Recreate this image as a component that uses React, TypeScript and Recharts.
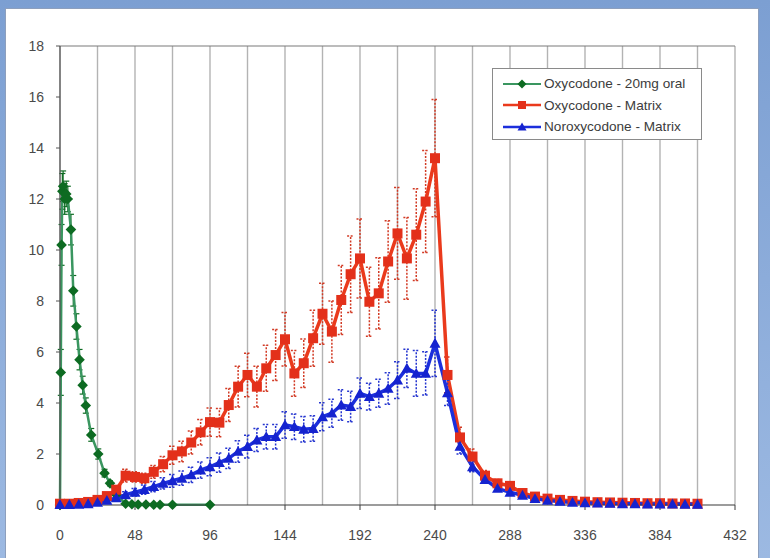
import React from "react";
import { LineChart, Line, XAxis, YAxis, CartesianGrid, ErrorBar, ReferenceLine } from "recharts";

// ---------- axes ----------
const xTicks = [0, 48, 96, 144, 192, 240, 288, 336, 384, 432];
const gridTicks = [0, 24, 48, 72, 96, 120, 144, 168, 192, 216, 240, 264, 288, 312, 336, 360, 384, 408, 432];
const yTicks = [0, 2, 4, 6, 8, 10, 12, 14, 16, 18];

// ---------- series names ----------
const seriesNames = ["Oxycodone - 20mg oral", "Oxycodone - Matrix", "Noroxycodone - Matrix"];

// ---------- Oxycodone - 20mg oral ----------
const oralTimes = [0, 0.5, 1, 1.5, 2, 3, 4, 5, 7, 8.5, 10.5, 12.5, 14.5, 16.5, 20, 24.5, 28.5, 32, 36, 42, 46, 50, 55, 60, 64, 72, 96];
const oralValues = [0, 5.2, 10.2, 12.3, 12.5, 12.0, 12.2, 12.0, 10.8, 8.4, 7.0, 5.7, 4.7, 3.9, 2.75, 2.0, 1.25, 0.85, 0.4, 0.05, 0.03, 0.02, 0.02, 0.01, 0.01, 0.01, 0.01];
const oralErrors = [0, 0.9, 0.8, 0.7, 0.6, 0.6, 0.5, 0.5, 0.6, 0.6, 0.5, 0.4, 0.35, 0.3, 0.25, 0.2, 0.15, 0.1, 0.08, 0.02, 0.02, 0.01, 0.01, 0.01, 0.01, 0.01, 0.01];

// ---------- Matrix sampling times ----------
const matrixTimes = [
  0, 6, 12, 18, 24, 30, 36, 42, 48, 54, 60, 66, 72, 78, 84, 90, 96, 102, 108, 114, 120,
  126, 132, 138, 144, 150, 156, 162, 168, 174, 180, 186, 192, 198, 204, 210, 216, 222, 228, 234, 240,
  248, 256, 264, 272, 280, 288, 296, 304, 312, 320, 328, 336, 344, 352, 360, 368, 376, 384, 392, 400, 408,
];

// ---------- Oxycodone - Matrix ----------
const oxyMatrixValues = [
  0.05, 0.05, 0.08, 0.12, 0.2, 0.35, 0.6, 1.15, 1.1, 1.05, 1.3, 1.6, 1.95, 2.1, 2.45, 2.85, 3.25, 3.23, 3.92, 4.64, 5.1,
  4.64, 5.36, 5.88, 6.5, 5.16, 5.56, 6.54, 7.5, 6.8, 8.04, 9.05, 9.67, 7.97, 8.3, 9.55, 10.65, 9.67, 10.6, 11.9, 13.6,
  5.1, 2.65, 1.9, 1.15, 0.85, 0.75, 0.47, 0.33, 0.25, 0.2, 0.16, 0.13, 0.11, 0.1, 0.09, 0.08, 0.07, 0.07, 0.06, 0.06, 0.05,
];
const oxyMatrixErrors = [
  0.03, 0.03, 0.04, 0.06, 0.08, 0.12, 0.15, 0.25, 0.2, 0.2, 0.25, 0.3, 0.35, 0.4, 0.45, 0.5, 0.55, 0.55, 0.65, 0.8, 0.85,
  0.8, 0.9, 1.0, 1.05, 0.9, 0.95, 1.1, 1.2, 1.2, 1.35, 1.5, 1.55, 1.35, 1.4, 1.6, 1.8, 1.6, 1.8, 2.0, 2.3,
  0.7, 0.4, 0.3, 0.2, 0.15, 0.12, 0.08, 0.06, 0.05, 0.04, 0.03, 0.03, 0.02, 0.02, 0.02, 0.02, 0.02, 0.02, 0.02, 0.02, 0.02,
];

// ---------- Noroxycodone - Matrix ----------
const noroxyValues = [
  0.02, 0.02, 0.03, 0.05, 0.1, 0.18, 0.28, 0.4, 0.5, 0.6, 0.72, 0.85, 0.95, 1.05, 1.18, 1.37, 1.5, 1.66, 1.83, 2.1, 2.29,
  2.55, 2.68, 2.68, 3.14, 3.07, 2.97, 3.0, 3.46, 3.6, 3.92, 3.86, 4.38, 4.25, 4.38, 4.57, 4.9, 5.36, 5.16, 5.16, 6.34,
  4.4, 2.3, 1.5, 1.0, 0.65, 0.5, 0.38, 0.25, 0.18, 0.14, 0.1, 0.08, 0.07, 0.06, 0.05, 0.05, 0.04, 0.04, 0.04, 0.03, 0.03,
];
const noroxyErrors = [
  0.01, 0.01, 0.02, 0.03, 0.05, 0.07, 0.1, 0.12, 0.15, 0.18, 0.2, 0.22, 0.25, 0.28, 0.3, 0.32, 0.35, 0.38, 0.4, 0.42, 0.45,
  0.45, 0.48, 0.48, 0.52, 0.5, 0.5, 0.5, 0.55, 0.55, 0.6, 0.6, 0.6, 0.52, 0.55, 0.62, 0.72, 0.75, 0.9, 0.85, 1.3,
  0.5, 0.3, 0.2, 0.15, 0.1, 0.08, 0.06, 0.05, 0.04, 0.03, 0.02, 0.02, 0.02, 0.02, 0.01, 0.01, 0.01, 0.01, 0.01, 0.01, 0.01,
];

const oralData = oralTimes.map((t, i) => ({ t, v: oralValues[i], e: oralErrors[i] }));
const oxyData = matrixTimes.map((t, i) => ({ t, v: oxyMatrixValues[i], e: oxyMatrixErrors[i] }));
const noroxyData = matrixTimes.map((t, i) => ({ t, v: noroxyValues[i], e: noroxyErrors[i] }));

const GREEN_LINE = "#3a9660";
const GREEN_DOT = "#0d6b22";
const RED = "#ea3a1c";
const RED_DOT = "#e3301a";
const BLUE = "#1c2fdc";
const BLUE_DOT = "#1523cf";

const font = "'Liberation Sans', Arial, sans-serif";

const diamondPath = (cx: number, cy: number, r: number) =>
  `M${cx},${cy - r}L${cx + r},${cy}L${cx},${cy + r}L${cx - r},${cy}Z`;
const trianglePath = (cx: number, cy: number, r: number) =>
  `M${cx},${cy - r}L${cx + r},${cy + r * 0.8}L${cx - r},${cy + r * 0.8}Z`;

const renderDiamond = (props: any) => {
  const { cx, cy, index } = props;
  if (cx == null || cy == null) return <g key={`d${index}`} />;
  return <path key={`d${index}`} d={diamondPath(cx, cy, 5.3)} fill={GREEN_DOT} />;
};
const renderSquare = (props: any) => {
  const { cx, cy, index } = props;
  if (cx == null || cy == null) return <g key={`s${index}`} />;
  return <rect key={`s${index}`} x={cx - 5} y={cy - 5} width={10} height={10} fill={RED_DOT} />;
};
const renderTriangle = (props: any) => {
  const { cx, cy, index } = props;
  if (cx == null || cy == null) return <g key={`t${index}`} />;
  return <path key={`t${index}`} d={trianglePath(cx, cy, 5.5)} fill={BLUE_DOT} />;
};

const LegendIcon = ({ kind }: { kind: number }) => {
  const color = kind === 0 ? GREEN_LINE : kind === 1 ? RED : BLUE;
  return (
    <svg width={40} height={12} style={{ display: "block" }}>
      <line x1={1} y1={6} x2={39} y2={6} stroke={color} strokeWidth={kind === 0 ? 2 : 2.5} />
      {kind === 0 && <path d={diamondPath(20, 6, 4.5)} fill={GREEN_DOT} />}
      {kind === 1 && <rect x={16} y={2} width={8} height={8} fill={RED_DOT} />}
      {kind === 2 && <path d={trianglePath(20, 6, 4.5)} fill={BLUE_DOT} />}
    </svg>
  );
};

export default function App() {
  return (
    <div
      style={{
        position: "absolute",
        left: 0,
        top: 0,
        width: 770,
        height: 558,
        background: "linear-gradient(180deg, #7c9fd2 0%, #9cb9e2 100%)",
        overflow: "hidden",
      }}
    >
      <div
        style={{
          position: "absolute",
          left: 5,
          top: 8,
          width: 752,
          height: 560,
          background: "#ffffff",
          borderTop: "1px solid #8d9fbd",
          borderLeft: "1px solid #8d9fbd",
          borderRight: "1px solid #8d9fbd",
        }}
      />
      <div style={{ position: "absolute", left: 0, top: 0 }}>
        <LineChart width={770} height={558} margin={{ top: 46, right: 35, left: 0, bottom: 23 }}>
          <CartesianGrid horizontal={false} verticalValues={gridTicks} stroke="#b3b3b3" strokeWidth={1.4} />
          <XAxis
            dataKey="t"
            type="number"
            domain={[0, 432]}
            ticks={xTicks}
            interval={0}
            height={30}
            tickSize={5}
            tickMargin={20}
            axisLine={{ stroke: "#3a3a3a", strokeWidth: 1.2 }}
            tickLine={{ stroke: "#3a3a3a" }}
            tick={{ fill: "#4a4a4a", fontSize: 14, fontFamily: font }}
            allowDuplicatedCategory={false}
          />
          <YAxis
            type="number"
            domain={[0, 18]}
            ticks={yTicks}
            interval={0}
            width={60}
            tickSize={4}
            tickMargin={12}
            axisLine={{ stroke: "#555555", strokeWidth: 1.2 }}
            tickLine={{ stroke: "#555555" }}
            tick={{ fill: "#4a4a4a", fontSize: 14, fontFamily: font }}
          />
          <ReferenceLine y={18} stroke="#7a7a7a" strokeWidth={1.2} />
          <Line
            data={oralData}
            dataKey="v"
            name={seriesNames[0]}
            type="linear"
            stroke={GREEN_LINE}
            strokeWidth={2.5}
            dot={renderDiamond}
            activeDot={false}
            isAnimationActive={false}
          >
            <ErrorBar dataKey="e" direction="y" width={3} stroke={GREEN_DOT} strokeWidth={1.2} />
          </Line>
          <Line
            data={oxyData}
            dataKey="v"
            name={seriesNames[1]}
            type="linear"
            stroke={RED}
            strokeWidth={3.5}
            dot={renderSquare}
            activeDot={false}
            isAnimationActive={false}
          >
            <ErrorBar dataKey="e" direction="y" width={3.5} stroke="#d23a24" strokeWidth={1.5} strokeDasharray="2 1.5" />
          </Line>
          <Line
            data={noroxyData}
            dataKey="v"
            name={seriesNames[2]}
            type="linear"
            stroke={BLUE}
            strokeWidth={3.5}
            dot={renderTriangle}
            activeDot={false}
            isAnimationActive={false}
          >
            <ErrorBar dataKey="e" direction="y" width={3.5} stroke="#2535d0" strokeWidth={1.5} strokeDasharray="2 1.5" />
          </Line>
        </LineChart>
      </div>
      <div
        style={{
          position: "absolute",
          left: 492,
          top: 68,
          width: 210,
          height: 72,
          background: "#ffffff",
          border: "1px solid #8a8a8a",
          boxSizing: "border-box",
          fontFamily: font,
          fontSize: 13.6,
          color: "#3c3c3c",
          paddingTop: 4,
        }}
      >
        {seriesNames.map((name, i) => (
          <div key={name} style={{ display: "flex", alignItems: "center", height: 21.5, paddingLeft: 9 }}>
            <LegendIcon kind={i} />
            <span style={{ marginLeft: 2, whiteSpace: "nowrap" }}>{name}</span>
          </div>
        ))}
      </div>
    </div>
  );
}
